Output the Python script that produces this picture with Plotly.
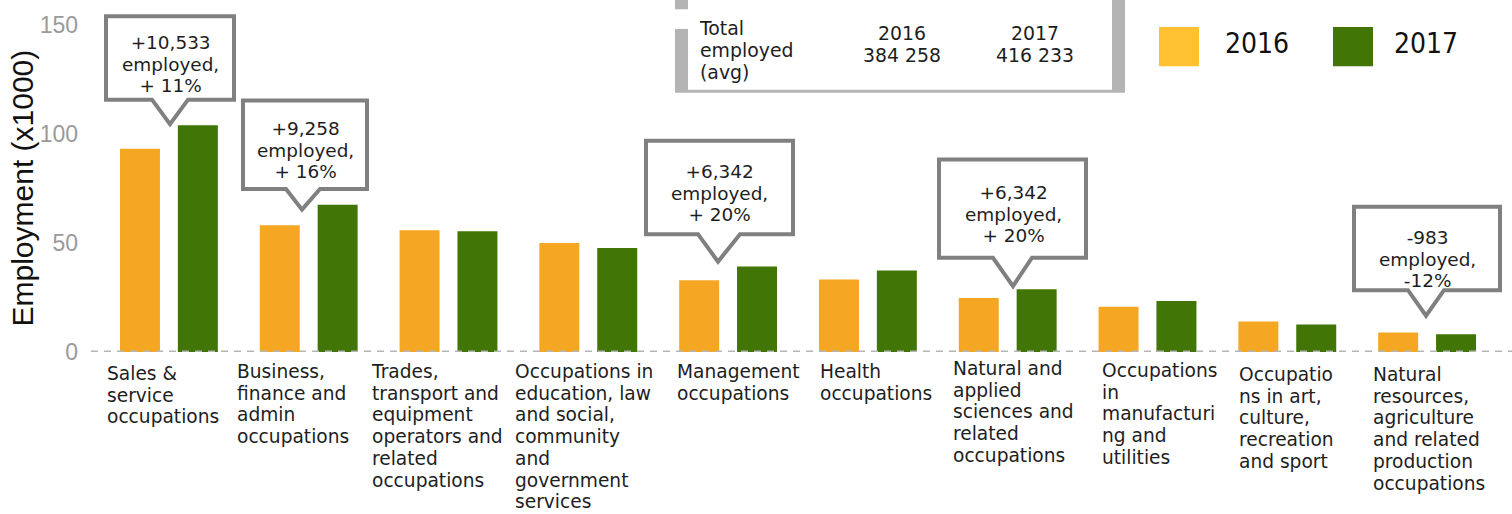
import plotly.graph_objects as go

# ---------------- data ----------------
categories = [
    "Sales & service occupations",
    "Business, finance and admin occupations",
    "Trades, transport and equipment operators and related occupations",
    "Occupations in education, law and social, community and government services",
    "Management occupations",
    "Health occupations",
    "Natural and applied sciences and related occupations",
    "Occupations in manufacturing and utilities",
    "Occupations in art, culture, recreation and sport",
    "Natural resources, agriculture and related production occupations",
]
category_label_lines = [
    ["Sales &", "service", "occupations"],
    ["Business,", "finance and", "admin", "occupations"],
    ["Trades,", "transport and", "equipment", "operators and", "related", "occupations"],
    ["Occupations in", "education, law", "and social,", "community", "and", "government", "services"],
    ["Management", "occupations"],
    ["Health", "occupations"],
    ["Natural and", "applied", "sciences and", "related", "occupations"],
    ["Occupations", "in", "manufacturi", "ng and", "utilities"],
    ["Occupatio", "ns in art,", "culture,", "recreation", "and sport"],
    ["Natural", "resources,", "agriculture", "and related", "production", "occupations"],
]
years = ["2016", "2017"]
values_2016 = [93.2, 58.1, 55.9, 50.0, 32.9, 33.3, 24.8, 20.7, 14.0, 9.0]
values_2017 = [104.0, 67.6, 55.4, 47.7, 39.2, 37.4, 28.8, 23.4, 12.6, 8.1]
y_ticks = [0, 50, 100, 150]
y_title = "Employment (x1000)"
callout_texts = [
    ["+10,533", "employed,", "+ 11%"],
    ["+9,258", "employed,", "+ 16%"],
    ["+6,342", "employed,", "+ 20%"],
    ["+6,342", "employed,", "+ 20%"],
    ["-983", "employed,", "-12%"],
]
total_label_lines = ["Total", "employed", "(avg)"]
totals = ["384 258", "416 233"]

# ---------------- styling / layout geometry ----------------
W, H = 1512, 514
L, R, T, B = 99, 15, 19, 162
PW = W - L - R
PH = H - T - B
BOTTOM = H - B

ORANGE = "#F5A623"
GREEN = "#417505"
LEG_ORANGE = "#FFC12F"
GRAY_BORDER = "#808080"
TXT = "#1e1e1e"
FONT = "DejaVu Sans, sans-serif"
CONTENT = 1.165        # DejaVu Sans ascent+descent (em)
ASC_MINUS_CAP = 0.198  # DejaVu Sans ascent - cap height (em)
LINE_SPACING = 1.3     # plotly's line spacing (em of the base font)


def px(x):
    return (x - L) / PW


def py(y):
    return (BOTTOM - y) / PH


def multiline(lines, glyph_size):
    return "<br>".join(f"<span style='font-size:{glyph_size:.2f}px'>{ln}</span>" for ln in lines)


fig = go.Figure()
bar_w = 0.286
fig.add_trace(go.Bar(x=list(range(len(categories))), y=values_2016, name=years[0],
                     marker=dict(color=ORANGE, line=dict(width=0)),
                     width=bar_w, offset=-0.350, hovertext=categories))
fig.add_trace(go.Bar(x=list(range(len(categories))), y=values_2017, name=years[1],
                     marker=dict(color=GREEN, line=dict(width=0)),
                     width=bar_w, offset=0.064, hovertext=categories))

shapes = []
annotations = []

# dashed zero line
shapes.append(dict(type="line", xref="paper", yref="y", x0=px(91), x1=px(1512), y0=0, y1=0,
                   line=dict(color="#b5b5b5", width=3, dash="7px,6px"), layer="above"))

# category labels (left aligned, tight line spacing)
label_left = [105, 235, 369, 513, 675, 818, 951, 1100, 1237, 1371]
label_top = [365, 363, 363, 363, 363, 363, 360, 362, 366, 366]
CAT_SPACING = 21.7
CAT_SIZE = CAT_SPACING / CONTENT
for i, lines in enumerate(category_label_lines):
    annotations.append(dict(text=multiline(lines, CAT_SIZE), xref="paper", yref="paper",
                            x=px(label_left[i]), y=py(label_top[i] - ASC_MINUS_CAP * CAT_SIZE),
                            xanchor="left", yanchor="top", align="left", showarrow=False,
                            font=dict(family=FONT, size=CAT_SPACING / LINE_SPACING, color=TXT)))

# callouts
callout_geom = [
    dict(box=(106, 10, 234, 95), ptr=(152, 188, 170, 120), cx=170, top=28),
    dict(box=(243, 96, 367, 186), ptr=(286, 320, 302, 207), cx=305, top=115),
    dict(box=(646, 137, 793, 232), ptr=(698, 740, 718, 260), cx=719, top=159),
    dict(box=(939, 156, 1086, 256), ptr=(993, 1032, 1013, 285), cx=1013, top=180),
    dict(box=(1354, 204, 1500, 289), ptr=(1408, 1444, 1426, 315), cx=1427, top=226),
]
CO_SPACING = 21.5
CO_SIZE = CO_SPACING / CONTENT
for g, lines in zip(callout_geom, callout_texts):
    x0, y0, x1, y1 = g["box"]
    bl, br, tx, ty = g["ptr"]
    pts = [(x0, y0), (x1, y0), (x1, y1), (br, y1), (tx, ty), (bl, y1), (x0, y1)]
    path = "M " + " L ".join(f"{px(a):.5f},{py(b):.5f}" for a, b in pts) + " Z"
    shapes.append(dict(type="path", xref="paper", yref="paper", path=path,
                       fillcolor="white", line=dict(color=GRAY_BORDER, width=4), layer="above"))
    annotations.append(dict(text=multiline(lines, CO_SIZE), xref="paper", yref="paper",
                            x=px(g["cx"]), y=py(g["top"] - ASC_MINUS_CAP * CO_SIZE),
                            xanchor="center", yanchor="top", align="center", showarrow=False,
                            font=dict(family=FONT, size=CO_SPACING / LINE_SPACING, color=TXT)))

# total employed box
shapes.append(dict(type="rect", xref="paper", yref="paper", x0=px(675), x1=px(1125), y0=py(-10), y1=py(88),
                   fillcolor="#b4b4b4", line=dict(width=0), layer="above"))
shapes.append(dict(type="rect", xref="paper", yref="paper", x0=px(688), x1=px(1112), y0=py(-10), y1=py(85),
                   fillcolor="white", line=dict(width=0), layer="above"))
shapes.append(dict(type="rect", xref="paper", yref="paper", x0=px(674), x1=px(688), y0=py(3), y1=py(23),
                   fillcolor="white", line=dict(width=0), layer="above"))
TB_SPACING = 22
TB_SIZE = TB_SPACING / CONTENT
annotations.append(dict(text=multiline(total_label_lines, TB_SIZE), xref="paper", yref="paper",
                        x=px(697), y=py(13 - ASC_MINUS_CAP * TB_SIZE), xanchor="left", yanchor="top",
                        align="left", showarrow=False,
                        font=dict(family=FONT, size=TB_SPACING / LINE_SPACING, color=TXT)))
for cx, yr, tot in zip([902, 1035], years, totals):
    annotations.append(dict(text=multiline([yr, tot], TB_SIZE), xref="paper", yref="paper",
                            x=px(cx), y=py(18 - ASC_MINUS_CAP * TB_SIZE), xanchor="center", yanchor="top",
                            align="center", showarrow=False,
                            font=dict(family=FONT, size=TB_SPACING / LINE_SPACING, color=TXT)))

# custom legend
LEG_FONT = "Liberation Sans Narrow, DejaVu Sans Condensed, Arial Narrow, sans-serif"
for (sx, tx), col, yr in zip([(1159, 1223), (1333, 1392)], [LEG_ORANGE, GREEN], years):
    shapes.append(dict(type="rect", xref="paper", yref="paper", x0=px(sx), x1=px(sx + 40), y0=py(61), y1=py(21),
                       fillcolor=col, line=dict(width=0), layer="above"))
    annotations.append(dict(text=yr, xref="paper", yref="paper", x=px(tx), y=py(38),
                            xanchor="left", yanchor="middle", showarrow=False,
                            font=dict(family=LEG_FONT, size=28, color="#111111")))

# y-axis title
annotations.append(dict(text=y_title, xref="paper", yref="paper", x=px(22), y=0.5, textangle=-90,
                        xanchor="center", yanchor="middle", showarrow=False,
                        font=dict(family="Liberation Sans, Arial, sans-serif", size=30, color="#111111")))

fig.update_layout(
    width=W, height=H, autosize=False,
    margin=dict(l=L, r=R, t=T, b=B, pad=0),
    paper_bgcolor="white", plot_bgcolor="white",
    showlegend=False, barmode="overlay",
    xaxis=dict(range=[-0.5, len(categories) - 0.5], showticklabels=False, showgrid=False,
               zeroline=False, showline=False, ticks="", fixedrange=True),
    yaxis=dict(range=[0, 150], tickvals=y_ticks, ticktext=[str(v) for v in y_ticks],
               showgrid=False, zeroline=False, showline=False, ticks="", ticklabelstandoff=20,
               tickfont=dict(family="Liberation Sans, Arial, sans-serif", size=23, color="#9a9a9a")),
    shapes=shapes, annotations=annotations,
)

fig.write_html("out.html", config={"displayModeBar": False},
               post_script="document.body.style.margin='0px';")
